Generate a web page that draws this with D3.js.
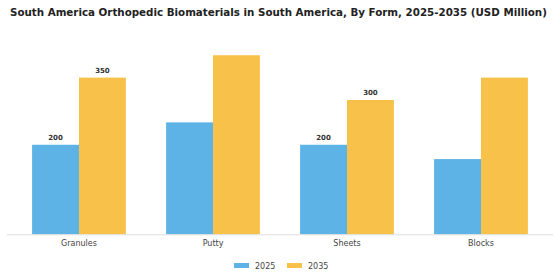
<!DOCTYPE html>
<html>
<head>
<meta charset="utf-8">
<script src="https://d3js.org/d3.v7.min.js"></script>
<style>
  body { margin: 0; background: #fff; }
  text { font-family: "DejaVu Sans", sans-serif; }
</style>
</head>
<body>
<div id="chart"></div>
<script>
// data
var categories = ["Granules", "Putty", "Sheets", "Blocks"];
var seriesNames = ["2025", "2035"];
var values2025 = [200, 250, 200, 168];
var values2035 = [350, 400, 300, 350];
var shownLabels2025 = ["200", "", "200", ""];
var shownLabels2035 = ["350", "", "300", ""];

var colors = { "2025": "#5DB2E6", "2035": "#F8C24A" };

var W = 560, H = 280;
var svg = d3.select("#chart").append("svg")
  .attr("width", W).attr("height", H);

// title
svg.append("text")
  .attr("x", 10).attr("y", 16)
  .attr("font-size", 10.3)
  .attr("font-weight", "bold")
  .attr("fill", "#222")
  .text("South America Orthopedic Biomaterials in South America, By Form, 2025-2035 (USD Million)");

var x = d3.scaleBand()
  .domain(categories)
  .range([12, 548])
  .paddingInner(0.3)
  .paddingOuter(0.15);

var x1 = d3.scaleBand()
  .domain(seriesNames)
  .range([0, x.bandwidth()]);

var y = d3.scaleLinear()
  .domain([0, 434])
  .range([234.3, 40]);

var rows = categories.map(function(c, i) {
  return { cat: c, vals: [
    { s: "2025", v: values2025[i], label: shownLabels2025[i] },
    { s: "2035", v: values2035[i], label: shownLabels2035[i] }
  ]};
});

var groups = svg.selectAll(".grp")
  .data(rows)
  .enter().append("g")
  .attr("transform", function(d) { return "translate(" + x(d.cat) + ",0)"; });

groups.selectAll("rect")
  .data(function(d) { return d.vals; })
  .enter().append("rect")
  .attr("x", function(d) { return x1(d.s); })
  .attr("y", function(d) { return y(d.v); })
  .attr("width", x1.bandwidth())
  .attr("height", function(d) { return y(0) - y(d.v); })
  .attr("fill", function(d) { return colors[d.s]; });

groups.selectAll(".val")
  .data(function(d) { return d.vals; })
  .enter().append("text")
  .attr("x", function(d) { return x1(d.s) + x1.bandwidth() / 2; })
  .attr("y", function(d) { return y(d.v) - 5; })
  .attr("text-anchor", "middle")
  .attr("font-size", 7)
  .attr("font-weight", "bold")
  .attr("fill", "#333")
  .text(function(d) { return d.label; });

// x axis
var xAxis = svg.append("g")
  .attr("transform", "translate(0," + y(0) + ")")
  .call(d3.axisBottom(x).tickSize(0).tickPadding(6));
xAxis.select(".domain").attr("stroke", "#ddd").attr("d", "M7,0.5H553");
xAxis.selectAll("text")
  .attr("font-size", 8)
  .attr("fill", "#444")
  .attr("font-family", "DejaVu Sans, sans-serif");

// legend
var legendX = [234, 287];
var legend = svg.append("g");
seriesNames.forEach(function(s, i) {
  legend.append("rect")
    .attr("x", legendX[i]).attr("y", 263)
    .attr("width", 15).attr("height", 5)
    .attr("fill", colors[s]);
  legend.append("text")
    .attr("x", legendX[i] + 21).attr("y", 268.5)
    .attr("font-size", 8)
    .attr("fill", "#444")
    .text(s);
});
</script>
</body>
</html>
